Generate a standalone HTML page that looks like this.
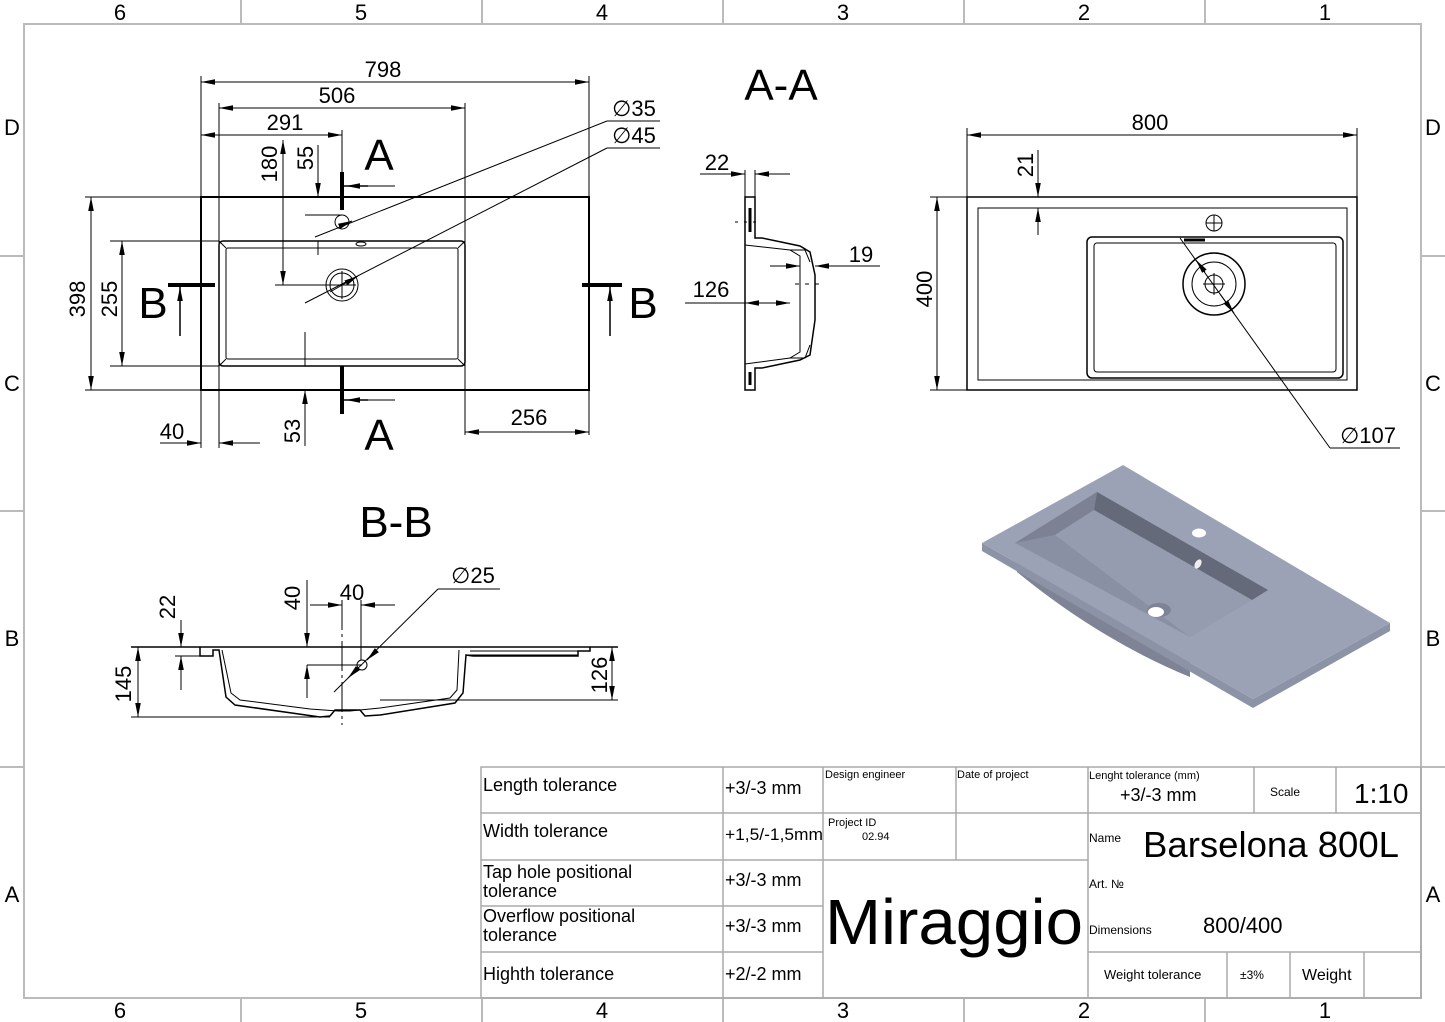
<!DOCTYPE html>
<html><head><meta charset="utf-8"><style>
body{margin:0;background:#fff}
svg{display:block}
text{font-family:"Liberation Sans",sans-serif;fill:#000}
.t{font-family:"DejaVu Sans Condensed","Liberation Sans Narrow","Liberation Sans",sans-serif}
</style></head><body>
<svg width="1445" height="1022" viewBox="0 0 1445 1022" xmlns="http://www.w3.org/2000/svg">
<defs>
<marker id="a" viewBox="0 0 10 4" refX="10" refY="2" markerWidth="14" markerHeight="6" markerUnits="userSpaceOnUse" orient="auto-start-reverse"><path d="M0,0L10,2L0,4z" fill="#000"/></marker>
</defs>
<g stroke="#bbb" stroke-width="2" fill="none">
<rect x="24" y="24" width="1397" height="974"/>
<line x1="241" y1="0" x2="241" y2="24"/><line x1="482" y1="0" x2="482" y2="24"/><line x1="723" y1="0" x2="723" y2="24"/><line x1="964" y1="0" x2="964" y2="24"/><line x1="1205" y1="0" x2="1205" y2="24"/>
<line x1="241" y1="998" x2="241" y2="1022"/><line x1="482" y1="998" x2="482" y2="1022"/><line x1="723" y1="998" x2="723" y2="1022"/><line x1="964" y1="998" x2="964" y2="1022"/><line x1="1205" y1="998" x2="1205" y2="1022"/>
<line x1="0" y1="256" x2="24" y2="256"/><line x1="0" y1="511" x2="24" y2="511"/><line x1="0" y1="767" x2="24" y2="767"/>
<line x1="1421" y1="256" x2="1445" y2="256"/><line x1="1421" y1="511" x2="1445" y2="511"/><line x1="1421" y1="767" x2="1445" y2="767"/>
</g>
<g font-size="22" text-anchor="middle">
<text x="120" y="20">6</text><text x="361" y="20">5</text><text x="602" y="20">4</text><text x="843" y="20">3</text><text x="1084" y="20">2</text><text x="1325" y="20">1</text>
<text x="120" y="1018">6</text><text x="361" y="1018">5</text><text x="602" y="1018">4</text><text x="843" y="1018">3</text><text x="1084" y="1018">2</text><text x="1325" y="1018">1</text>
<text x="12" y="135">D</text><text x="12" y="391">C</text><text x="12" y="646">B</text><text x="12" y="902">A</text>
<text x="1433" y="135">D</text><text x="1433" y="391">C</text><text x="1433" y="646">B</text><text x="1433" y="902">A</text>
</g>

<!-- TOP VIEW -->
<g stroke="#000" fill="none" stroke-width="1">
<rect x="201" y="197" width="388" height="193" stroke-width="2"/>
<rect x="219" y="241" width="246" height="125" rx="4" stroke-width="1.5"/>
<rect x="226" y="248" width="232" height="111" rx="2"/>
<line x1="219" y1="241" x2="226" y2="248"/><line x1="465" y1="241" x2="458" y2="248"/><line x1="219" y1="366" x2="226" y2="359"/><line x1="465" y1="366" x2="458" y2="359"/>
<circle cx="342" cy="222" r="7"/>
<circle cx="342" cy="285" r="16"/><circle cx="342" cy="285" r="12"/>
<line x1="328" y1="285" x2="356" y2="285"/><line x1="342" y1="271" x2="342" y2="299"/>
<ellipse cx="361" cy="244" rx="5" ry="2"/>
<line x1="201" y1="76" x2="201" y2="448"/><line x1="589" y1="76" x2="589" y2="435"/>
<line x1="219" y1="103" x2="219" y2="448"/><line x1="465" y1="103" x2="465" y2="435"/>
<line x1="342" y1="130" x2="342" y2="175"/>
<line x1="201" y1="82" x2="589" y2="82" marker-start="url(#a)" marker-end="url(#a)"/>
<line x1="219" y1="108" x2="465" y2="108" marker-start="url(#a)" marker-end="url(#a)"/>
<line x1="201" y1="135" x2="342" y2="135" marker-start="url(#a)" marker-end="url(#a)"/>
<line x1="85" y1="197" x2="201" y2="197"/><line x1="85" y1="390" x2="201" y2="390"/>
<line x1="91" y1="197" x2="91" y2="390" marker-start="url(#a)" marker-end="url(#a)"/>
<line x1="110" y1="241" x2="219" y2="241"/><line x1="110" y1="366" x2="219" y2="366"/>
<line x1="122" y1="241" x2="122" y2="366" marker-start="url(#a)" marker-end="url(#a)"/>
<line x1="283" y1="140" x2="283" y2="285" marker-end="url(#a)"/>
<line x1="283" y1="197" x2="283" y2="140" marker-end="url(#a)"/>
<line x1="275" y1="285" x2="330" y2="285"/>
<line x1="318" y1="145" x2="318" y2="197" marker-end="url(#a)"/>
<line x1="318" y1="241" x2="318" y2="255"/>
<line x1="305" y1="215" x2="342" y2="215"/>
<line x1="305" y1="332" x2="305" y2="366"/>
<line x1="305" y1="446" x2="305" y2="390" marker-end="url(#a)"/>
<line x1="160" y1="443" x2="201" y2="443" marker-end="url(#a)"/><line x1="260" y1="443" x2="219" y2="443" marker-end="url(#a)"/>
<line x1="465" y1="432" x2="589" y2="432" marker-start="url(#a)" marker-end="url(#a)"/>
<line x1="660" y1="121" x2="607" y2="121"/><line x1="607" y1="121" x2="315" y2="237" /><line x1="340" y1="226" x2="352" y2="221" marker-end="url(#a)"/>
<line x1="660" y1="148" x2="607" y2="148"/><line x1="607" y1="148" x2="305" y2="303"/><line x1="330" y1="292" x2="358" y2="276" marker-end="url(#a)"/>
<line x1="342" y1="172" x2="342" y2="210" stroke-width="4"/><line x1="342" y1="366" x2="342" y2="414" stroke-width="4"/>
<line x1="342" y1="186" x2="368" y2="186" stroke-width="1.5"/><line x1="342" y1="400" x2="368" y2="400" stroke-width="1.5"/>
<line x1="395" y1="186" x2="346" y2="186" marker-end="url(#a)"/><line x1="395" y1="400" x2="346" y2="400" marker-end="url(#a)"/>
<line x1="168" y1="285" x2="215" y2="285" stroke-width="4"/><line x1="582" y1="285" x2="622" y2="285" stroke-width="4"/>
<line x1="180" y1="336" x2="180" y2="287" marker-end="url(#a)" stroke-width="1.5"/><line x1="610" y1="336" x2="610" y2="287" marker-end="url(#a)" stroke-width="1.5"/>
</g>
<g font-size="22" text-anchor="middle">
<text x="383" y="77">798</text><text x="337" y="103">506</text><text x="285" y="130">291</text>
<text x="634" y="116">∅35</text><text x="634" y="143">∅45</text>
<text transform="translate(85,299) rotate(-90)">398</text>
<text transform="translate(117,299) rotate(-90)">255</text>
<text transform="translate(277,164) rotate(-90)">180</text>
<text transform="translate(313,158) rotate(-90)">55</text>
<text transform="translate(300,431) rotate(-90)">53</text>
<text x="172" y="439">40</text><text x="529" y="425">256</text>
</g>
<g font-size="44" text-anchor="middle">
<text x="379" y="170">A</text><text x="379" y="450">A</text>
<text x="153" y="318">B</text><text x="643" y="318">B</text>
<text x="781" y="100">A-A</text><text x="396" y="537">B-B</text>
</g>

<!-- A-A section -->
<g stroke="#000" fill="none" stroke-width="1">
<path d="M745,197 L745,390 L755,390 L755,368 L762,368 L800,360 L810,355 L815,320 L815,275 L810,252 L800,246 L762,238 L755,238 L755,197 Z" stroke-width="1.5"/>
<path d="M745,245 L790,250 L800,256 L800,352 L790,358 L745,364"/>
<path d="M790,250 L805,250 L810,262 M790,358 L805,358 L810,345"/>
<line x1="750" y1="208" x2="750" y2="232" stroke-width="3"/><line x1="750" y1="372" x2="750" y2="385" stroke-width="3"/>
<line x1="745" y1="170" x2="745" y2="197"/><line x1="755" y1="170" x2="755" y2="197"/>
<line x1="700" y1="174" x2="745" y2="174" marker-end="url(#a)"/><line x1="790" y1="174" x2="755" y2="174" marker-end="url(#a)"/>
<line x1="685" y1="303" x2="745" y2="303"/><line x1="790" y1="303" x2="745" y2="303" marker-end="url(#a)"/><line x1="745" y1="303" x2="790" y2="303" marker-end="url(#a)"/>
<line x1="770" y1="266" x2="800" y2="266"/><line x1="880" y1="266" x2="815" y2="266" marker-end="url(#a)"/><line x1="790" y1="266" x2="800" y2="266" marker-end="url(#a)"/>
<line x1="735" y1="222" x2="760" y2="222" stroke-dasharray="3,6"/><line x1="795" y1="284" x2="825" y2="284" stroke-dasharray="4,6"/>
</g>
<g font-size="22" text-anchor="middle"><text x="717" y="170">22</text><text x="711" y="297">126</text><text x="861" y="262">19</text></g>

<!-- Right top view -->
<g stroke="#000" fill="none" stroke-width="1">
<rect x="967" y="197" width="390" height="193" stroke-width="1.5"/>
<rect x="978" y="208" width="369" height="172"/>
<rect x="1087" y="237" width="256" height="141" rx="5" stroke-width="1.5"/>
<rect x="1094" y="243" width="242" height="129" rx="3"/>
<circle cx="1214" cy="223" r="8"/><line x1="1206" y1="223" x2="1222" y2="223"/><line x1="1214" y1="215" x2="1214" y2="231"/>
<circle cx="1214" cy="284" r="31" stroke-width="1.5"/><circle cx="1214" cy="284" r="22"/><circle cx="1214" cy="284" r="9"/>
<line x1="1203" y1="284" x2="1225" y2="284"/><line x1="1214" y1="273" x2="1214" y2="295"/>
<line x1="1184" y1="240" x2="1205" y2="240" stroke-width="3"/>
<line x1="967" y1="128" x2="967" y2="197"/><line x1="1357" y1="128" x2="1357" y2="197"/>
<line x1="967" y1="135" x2="1357" y2="135" marker-start="url(#a)" marker-end="url(#a)"/>
<line x1="930" y1="197" x2="967" y2="197"/><line x1="930" y1="390" x2="967" y2="390"/>
<line x1="937" y1="197" x2="937" y2="390" marker-start="url(#a)" marker-end="url(#a)"/>
<line x1="1038" y1="150" x2="1038" y2="197" marker-end="url(#a)"/><line x1="1038" y1="235" x2="1038" y2="208" marker-end="url(#a)"/>
<line x1="1400" y1="448" x2="1330" y2="448"/><line x1="1330" y1="448" x2="1180" y2="238"/>
<line x1="1205" y1="272" x2="1196" y2="260" marker-end="url(#a)"/><line x1="1220" y1="294" x2="1234" y2="313" marker-end="url(#a)"/>
</g>
<g font-size="22" text-anchor="middle"><text x="1150" y="130">800</text><text x="1368" y="443">∅107</text>
<text transform="translate(932,289) rotate(-90)">400</text><text transform="translate(1033,165) rotate(-90)">21</text></g>

<!-- isometric -->
<path d="M1017,572 L1017,555 L1190,660 L1190,677 Q1100,640 1017,572 Z" fill="#7e8495"/>
<path d="M982,543 L982,551 L1253,708 L1390,631 L1390,623 L1253,699 Z" fill="#8d93a6"/>
<path d="M982,543 L1123,465 L1390,623 L1253,699 Z" fill="#9ca2b6"/>
<path d="M1015,543 L1097,492 L1268,590 L1190,637 Z" fill="#8a90a3"/>
<path d="M1097,492 L1268,590 L1252,600 L1094,510 Z" fill="#656a7a"/>
<path d="M1015,543 L1097,492 L1094,510 L1055,535 Z" fill="#7c8294"/>
<path d="M1055,535 L1094,510 L1252,600 L1190,637 Z" fill="#969cb0"/>
<ellipse cx="1199" cy="533" rx="7" ry="4.5" fill="#fff"/>
<ellipse cx="1198" cy="564" rx="3" ry="5" fill="#eee" transform="rotate(30 1198 564)"/>
<ellipse cx="1159" cy="610" rx="12" ry="7" fill="#7e8495"/><ellipse cx="1156" cy="612" rx="8" ry="5" fill="#fff"/>

<!-- B-B section -->
<g stroke="#000" fill="none" stroke-width="1">
<line x1="131" y1="647" x2="618" y2="647" stroke-width="1.5"/>
<path d="M200,647 L200,656 L213,656 L213,650 L219,650 L226,697 L235,705 L320,717 L330,716 L335,710 L360,710 L365,716 L380,715 L455,703 L463,693 L466,655 L473,656 L578,656 L578,651 L590,651 L590,647" stroke-width="1.5"/>
<path d="M222,650 L231,693 L240,700 L310,709 L338,711 L350,711 L380,708 L450,698 L457,690 L459,650"/>
<path d="M466,655 L578,655 M470,651 L585,651"/>
<line x1="131" y1="717" x2="330" y2="717"/>
<line x1="380" y1="700" x2="618" y2="700"/>
<line x1="138" y1="647" x2="138" y2="717" marker-start="url(#a)" marker-end="url(#a)"/>
<line x1="612" y1="647" x2="612" y2="700" marker-start="url(#a)" marker-end="url(#a)"/>
<line x1="175" y1="656" x2="200" y2="656"/>
<line x1="181" y1="620" x2="181" y2="647" marker-end="url(#a)"/><line x1="181" y1="690" x2="181" y2="656" marker-end="url(#a)"/>
<line x1="307" y1="580" x2="307" y2="647" marker-end="url(#a)"/><line x1="307" y1="698" x2="307" y2="665" marker-end="url(#a)"/>
<line x1="307" y1="665" x2="362" y2="665"/>
<line x1="342" y1="600" x2="342" y2="725" stroke-dasharray="30,4,3,4"/><line x1="361" y1="600" x2="361" y2="660"/>
<line x1="310" y1="605" x2="342" y2="605" marker-end="url(#a)"/><line x1="395" y1="605" x2="361" y2="605" marker-end="url(#a)"/>
<circle cx="362" cy="665" r="5"/>
<line x1="500" y1="589" x2="438" y2="589"/><line x1="438" y1="589" x2="334" y2="692"/>
<line x1="356" y1="670" x2="348" y2="678" marker-end="url(#a)"/><line x1="375" y1="652" x2="367" y2="660" marker-end="url(#a)"/>
</g>
<g font-size="22" text-anchor="middle"><text x="352" y="600">40</text><text x="473" y="583">∅25</text>
<text transform="translate(175,607) rotate(-90)">22</text><text transform="translate(300,598) rotate(-90)">40</text>
<text transform="translate(131,684) rotate(-90)">145</text><text transform="translate(607,675) rotate(-90)">126</text></g>

<!-- title block -->
<g stroke="#aaa" stroke-width="1.5" fill="none">
<rect x="481" y="767" width="940" height="231"/>
<line x1="481" y1="813" x2="1088" y2="813"/><line x1="481" y1="860" x2="1088" y2="860"/><line x1="481" y1="906" x2="823" y2="906"/><line x1="481" y1="952" x2="823" y2="952"/>
<line x1="723" y1="767" x2="723" y2="998"/><line x1="823" y1="767" x2="823" y2="998"/><line x1="956" y1="767" x2="956" y2="860"/>
<line x1="1088" y1="767" x2="1088" y2="998"/>
<line x1="1088" y1="813" x2="1421" y2="813"/><line x1="1088" y1="952" x2="1421" y2="952"/>
<line x1="1254" y1="767" x2="1254" y2="813"/><line x1="1336" y1="767" x2="1336" y2="813"/>
<line x1="1227" y1="952" x2="1227" y2="998"/><line x1="1290" y1="952" x2="1290" y2="998"/><line x1="1364" y1="952" x2="1364" y2="998"/>
</g>
<g class="t">
<text x="483" y="791" font-size="18">Length tolerance</text>
<text x="483" y="837" font-size="18">Width tolerance</text>
<text x="483" y="878" font-size="18">Tap hole positional</text><text x="483" y="897" font-size="18">tolerance</text>
<text x="483" y="922" font-size="18">Overflow positional</text><text x="483" y="941" font-size="18">tolerance</text>
<text x="483" y="980" font-size="18">Highth tolerance</text>
<text x="725" y="794" font-size="18">+3/-3 mm</text>
<text x="725" y="840" font-size="17" textLength="98" lengthAdjust="spacingAndGlyphs">+1,5/-1,5mm</text>
<text x="725" y="886" font-size="18">+3/-3 mm</text>
<text x="725" y="932" font-size="18">+3/-3 mm</text>
<text x="725" y="980" font-size="18">+2/-2 mm</text>
<text x="825" y="778" font-size="11">Design engineer</text>
<text x="957" y="778" font-size="11">Date of project</text>
<text x="828" y="826" font-size="11">Project ID</text><text x="862" y="840" font-size="11">02.94</text>
<text x="825" y="944" font-size="64" textLength="258" lengthAdjust="spacingAndGlyphs">Miraggio</text>
<text x="1089" y="779" font-size="11">Lenght tolerance (mm)</text>
<text x="1120" y="801" font-size="18">+3/-3 mm</text>
<text x="1270" y="796" font-size="12">Scale</text>
<text x="1354" y="803" font-size="28">1:10</text>
<text x="1089" y="842" font-size="12">Name</text>
<text x="1143" y="857" font-size="36" textLength="256" lengthAdjust="spacingAndGlyphs">Barselona 800L</text>
<text x="1089" y="888" font-size="12">Art. №</text>
<text x="1089" y="934" font-size="12">Dimensions</text>
<text x="1203" y="933" font-size="22">800/400</text>
<text x="1104" y="979" font-size="13">Weight tolerance</text>
<text x="1240" y="979" font-size="12">±3%</text>
<text x="1302" y="980" font-size="16">Weight</text>
</g>
</svg>
</body></html>
